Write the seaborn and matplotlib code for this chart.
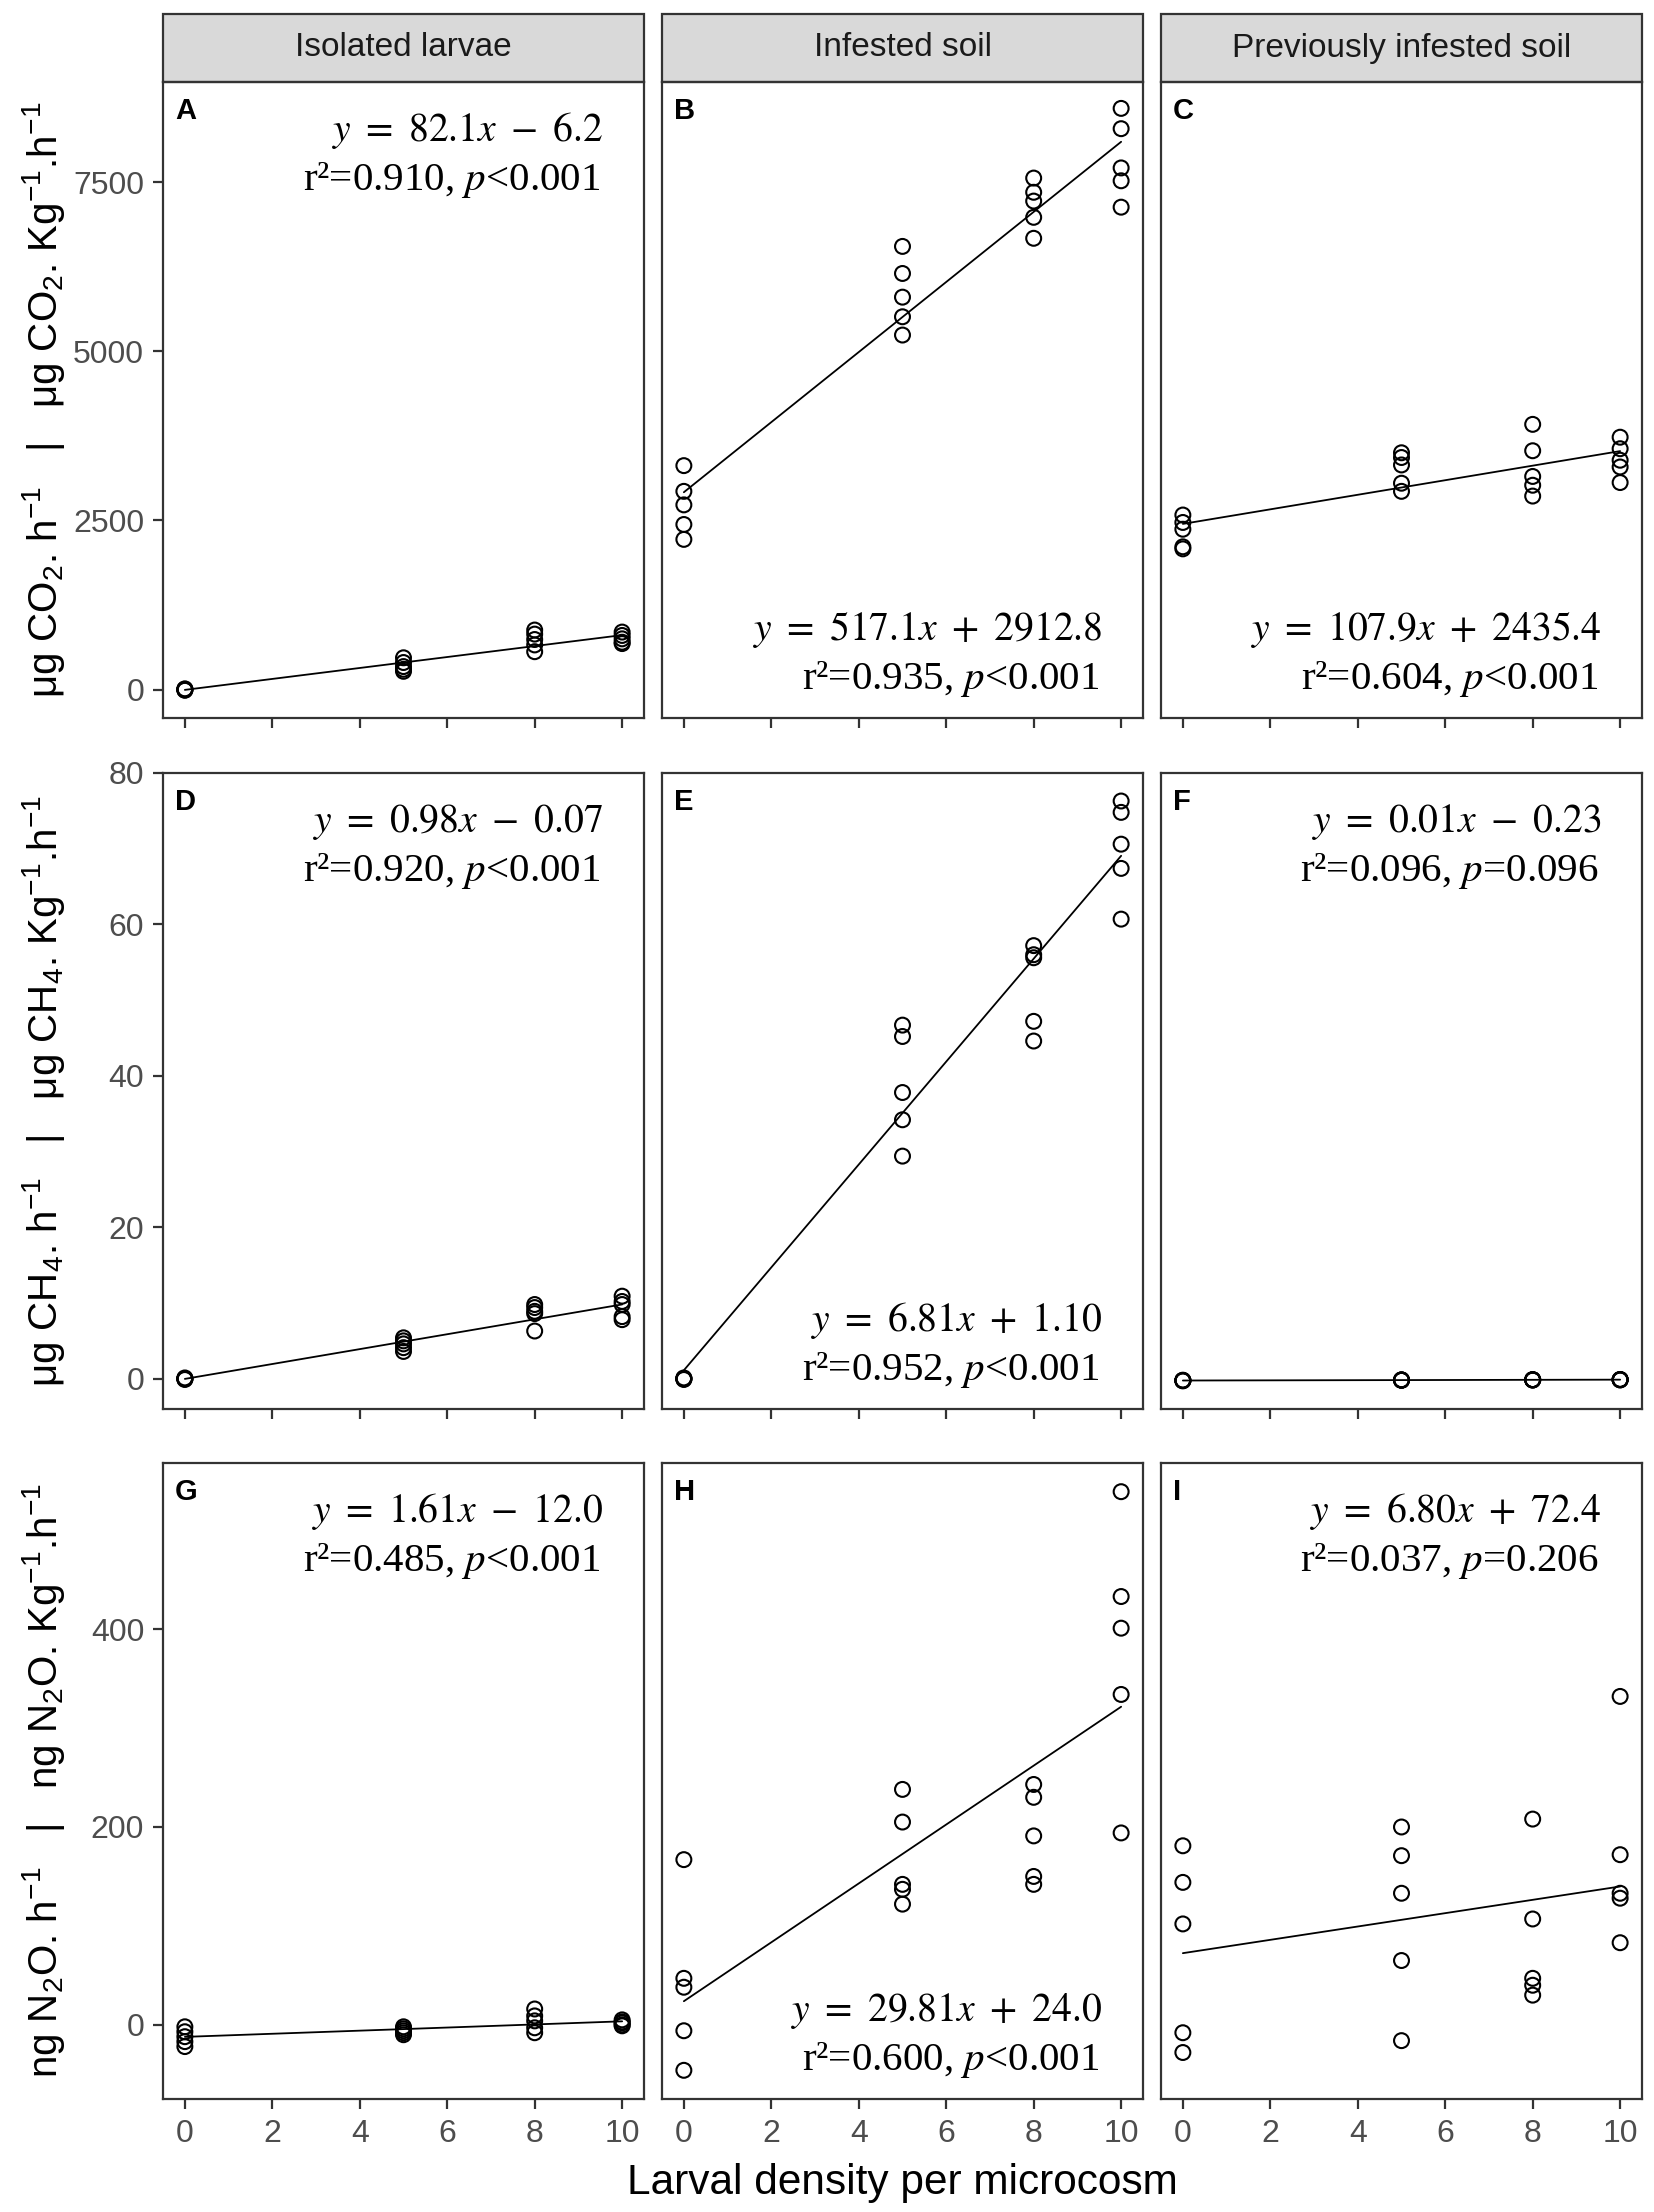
import numpy as np
import pandas as pd
import matplotlib
matplotlib.use('Agg')
import matplotlib.pyplot as plt
import seaborn as sns
from matplotlib.patches import Rectangle

# Larval density, 5 microcosms per density level
density = [0, 0, 0, 0, 0, 5, 5, 5, 5, 5, 8, 8, 8, 8, 8, 10, 10, 10, 10, 10]

treatments = ['Isolated larvae', 'Infested soil', 'Previously infested soil']
gases = ['CO2', 'CH4', 'N2O']

# CO2 flux
co2_isolated = [10, 0, -10, 5, -5, 470, 400, 340, 300, 270,
                880, 820, 740, 660, 560, 850, 800, 750, 700, 680]
co2_infested = [3310, 2930, 2730, 2440, 2220, 6550, 6150, 5800, 5510, 5240,
                7560, 7350, 7220, 6980, 6670, 8590, 8290, 7710, 7520, 7130]
co2_previous = [2580, 2470, 2370, 2110, 2080, 3500, 3430, 3320, 3050, 2930,
                3920, 3530, 3150, 3020, 2860, 3730, 3560, 3390, 3290, 3060]

# CH4 flux
ch4_isolated = [0.1, 0.0, 0.0, -0.1, 0.0, 5.4, 5.0, 4.6, 4.1, 3.6,
                9.8, 9.4, 8.9, 8.6, 6.3, 10.9, 10.2, 9.8, 8.2, 7.8]
ch4_infested = [0.1, 0.0, -0.1, 0.0, 0.0, 46.7, 45.2, 37.8, 34.2, 29.4,
                57.2, 56.0, 55.6, 47.2, 44.6, 76.3, 74.8, 70.6, 67.4, 60.7]
ch4_previous = [-0.25, -0.22, -0.28, -0.20, -0.24, -0.17, -0.19, -0.15, -0.21, -0.18,
                -0.13, -0.16, -0.12, -0.18, -0.14, -0.10, -0.14, -0.12, -0.16, -0.11]

# N2O flux
n2o_isolated = [-2, -7, -12, -17, -22, -2, -4, -6, -8, -10,
                16, 9, 4, -3, -8, 5, 3, 2, 0, -1]
n2o_infested = [167, 47, 38, -6, -46, 238, 205, 142, 137, 122,
                243, 230, 191, 150, 142, 539, 433, 401, 334, 194]
n2o_previous = [181, 144, 102, -8, -28, 200, 171, 133, 65, -16,
                208, 107, 47, 40, 30, 332, 172, 133, 128, 83]

# regression labels
equations = [['82.1x - 6.2', '517.1x + 2912.8', '107.9x + 2435.4'],
             ['0.98x - 0.07', '6.81x + 1.10', '0.01x - 0.23'],
             ['1.61x - 12.0', '29.81x + 24.0', '6.80x + 72.4']]
r2_values = [['0.910', '0.935', '0.604'],
             ['0.920', '0.952', '0.096'],
             ['0.485', '0.600', '0.037']]
p_values = [['<0.001', '<0.001', '<0.001'],
            ['<0.001', '<0.001', '=0.096'],
            ['<0.001', '<0.001', '=0.206']]
eq_place = [['top', 'bottom', 'bottom'],
            ['top', 'bottom', 'top'],
            ['top', 'bottom', 'top']]
panel_letters = ['A', 'B', 'C', 'D', 'E', 'F', 'G', 'H', 'I']

y_labels = ['μg CO$_2$. h$^{-1}$   |   μg CO$_2$. Kg$^{-1}$.h$^{-1}$',
            'μg CH$_4$. h$^{-1}$   |   μg CH$_4$. Kg$^{-1}$.h$^{-1}$',
            'ng N$_2$O. h$^{-1}$   |   ng N$_2$O. Kg$^{-1}$.h$^{-1}$']
y_ticks = [[0, 2500, 5000, 7500], [0, 20, 40, 60, 80], [0, 200, 400]]
y_limits = [(-420, 8980), (-4, 80), (-75, 568)]
x_ticks = [0, 2, 4, 6, 8, 10]

frames = []
flux_lists = {'CO2': [co2_isolated, co2_infested, co2_previous],
              'CH4': [ch4_isolated, ch4_infested, ch4_previous],
              'N2O': [n2o_isolated, n2o_infested, n2o_previous]}
for g in gases:
    for t, vals in zip(treatments, flux_lists[g]):
        frames.append(pd.DataFrame({'gas': g, 'treatment': t,
                                    'density': density, 'flux': vals}))
df = pd.concat(frames, ignore_index=True)

sns.set_style('white')
plt.rcParams['font.family'] = ['Liberation Sans', 'DejaVu Sans']
plt.rcParams['mathtext.fontset'] = 'custom'
plt.rcParams['mathtext.rm'] = 'Liberation Sans'
plt.rcParams['mathtext.it'] = 'Liberation Sans:italic'
plt.rcParams['mathtext.bf'] = 'Liberation Sans:bold'

W, H = 1654, 2212
fig = plt.figure(figsize=(W / 100, H / 100), dpi=100)

col_left = [163, 662, 1161]
row_top = [82, 773, 1463]
pw, ph = 481, 636
dark = '#333333'

axes = []
for i, g in enumerate(gases):
    row = []
    for j, t in enumerate(treatments):
        ax = fig.add_axes([col_left[j] / W, 1 - (row_top[i] + ph) / H, pw / W, ph / H])
        sub = df[(df['gas'] == g) & (df['treatment'] == t)]
        sns.regplot(data=sub, x='density', y='flux', ax=ax, ci=None, color='black',
                    scatter_kws=dict(facecolors='none', edgecolors='black', s=115,
                                     linewidths=1.5, alpha=1, zorder=3),
                    line_kws=dict(lw=1.3, color='black'))
        ax.set_xlim(-0.5, 10.5)
        ax.set_ylim(*y_limits[i])
        ax.set_xticks(x_ticks)
        ax.set_yticks(y_ticks[i])
        ax.set_xlabel('')
        ax.set_ylabel('')
        for s in ax.spines.values():
            s.set_visible(True)
            s.set_color(dark)
            s.set_linewidth(1.6)
        ax.tick_params(axis='both', direction='out', length=7.5, width=1.6,
                       color=dark, labelsize=23, labelcolor='#4D4D4D')
        ax.tick_params(axis='x', pad=7, bottom=True)
        ax.tick_params(axis='y', pad=6, left=(j == 0))
        if i < 2:
            ax.tick_params(axis='x', labelbottom=False)
        if j > 0:
            ax.tick_params(axis='y', labelleft=False)

        # panel letter
        ax.text(0.025, 0.976, panel_letters[i * 3 + j], transform=ax.transAxes,
                ha='left', va='top', fontsize=21, fontweight='bold', color='black')

        # regression text
        if eq_place[i][j] == 'top':
            y1, y2 = 0.907, 0.830
        else:
            y1, y2 = 0.123, 0.045
        ax.text(0.915, y1, '$y\\ =\\ ' + equations[i][j].replace(' ', '\\ ') + '$',
                transform=ax.transAxes, ha='right', va='baseline', fontsize=28.5,
                math_fontfamily='stix', color='black')
        ax.text(0.91, y2, 'r²=' + r2_values[i][j] + ', $p$' + p_values[i][j],
                transform=ax.transAxes, ha='right', va='baseline', fontsize=29.5,
                family='Liberation Serif', math_fontfamily='stix', color='black')

        # facet strip on top row
        if i == 0:
            sh = 68 / ph
            ax.add_patch(Rectangle((0, 1), 1, sh, transform=ax.transAxes,
                                   facecolor='#D9D9D9', edgecolor=dark, lw=1.6,
                                   clip_on=False))
            ax.text(0.5, 1 + sh / 2, t, transform=ax.transAxes, ha='center',
                    va='center', fontsize=24, color='#1A1A1A')
        row.append(ax)
    row[0].set_ylabel(y_labels[i], fontsize=29, color='black')
    row[0].yaxis.set_label_coords(-0.2, 0.5)
    axes.append(row)

axes[2][1].set_xlabel('Larval density per microcosm', fontsize=30.5, color='black')
axes[2][1].xaxis.set_label_coords(0.5, -0.1)

fig.savefig('out.png', dpi=100, facecolor='white')
